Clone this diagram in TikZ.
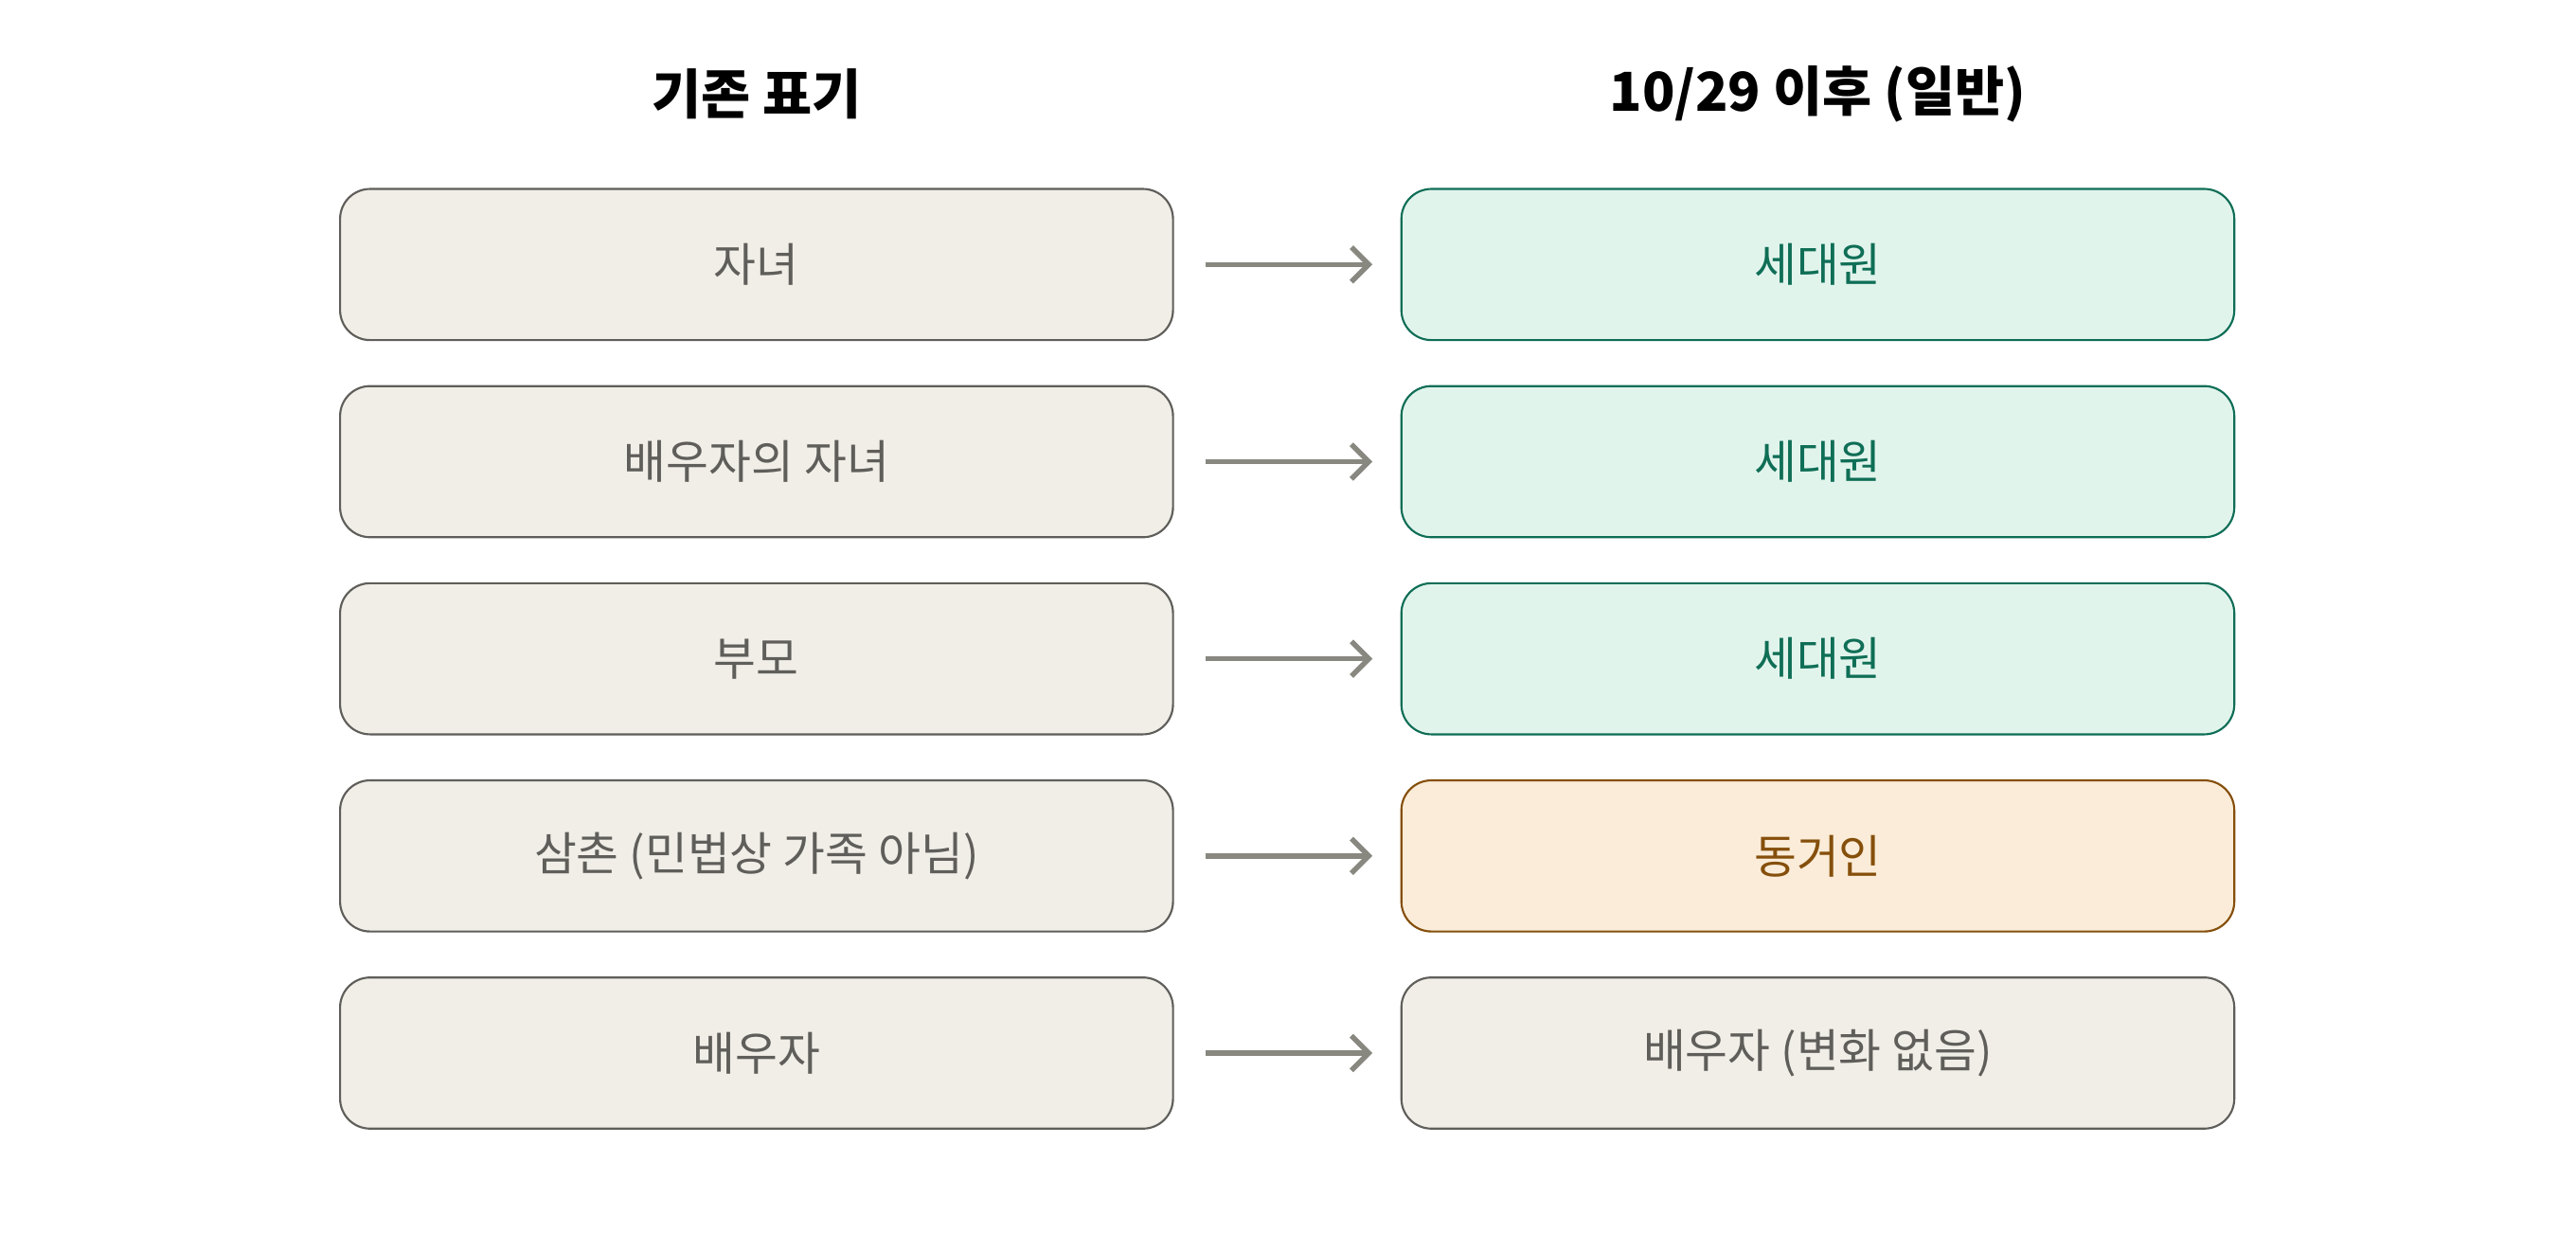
\documentclass[tikz,border=0pt]{standalone}
\usepackage{fontspec}
\setmainfont{Noto Sans CJK KR}
\usetikzlibrary{calc}
\usetikzlibrary{arrows.meta}

\definecolor{oldfill}{HTML}{F1EEE7}
\definecolor{oldline}{HTML}{5F5E5A}
\definecolor{newfill}{HTML}{E1F4EC}
\definecolor{newline}{HTML}{0F6E56}
\definecolor{cofill}{HTML}{FAECD8}
\definecolor{coline}{HTML}{854F0B}
\definecolor{arrowgray}{HTML}{888780}

\tikzset{
  box/.style = {draw = oldline, fill = oldfill, text = oldline, rounded corners = 5.2pt,
    minimum width = 5.07cm, minimum height = 0.92cm, line width = 0.35pt,
    font = \fontsize{8}{10}\selectfont},
  member/.style = {box, draw = newline, fill = newfill, text = newline},
  cohab/.style = {box, draw = coline, fill = cofill, text = coline},
  title/.style = {font = \fontsize{9.3}{11}\selectfont\bfseries}
}

\begin{document}
\begin{tikzpicture}
  \useasboundingbox (0, 0) rectangle (15.68, -7.61);

  \node[title] (t1) at (4.605, -0.57) {기존 표기};
  \node[title] (t2) at (11.065, -0.57) {10/29 이후 (일반)};

  \foreach \i/\old/\new/\sty in {1/자녀/세대원/member, 2/배우자의 자녀/세대원/member,
    3/부모/세대원/member, 4/삼촌 (민법상 가족 아님)/동거인/cohab, 5/배우자/배우자 (변화 없음)/box} {
    \pgfmathsetmacro{\y}{-0.41 - 1.2*\i}
    \node[box] (o\i) at (4.605, \y) {\old};
    \node[\sty] (n\i) at (11.065, \y) {\new};
    \coordinate (a\i) at ($(o\i.east) + (0.19, 0)$);
    \coordinate (b\i) at ($(n\i.west) + (-0.17, 0)$);
    \draw[arrowgray, line width = 0.9pt, -{Straight Barb[length = 3pt, width = 6pt]}] (a\i) -- (b\i);
  }
\end{tikzpicture}
\end{document}
